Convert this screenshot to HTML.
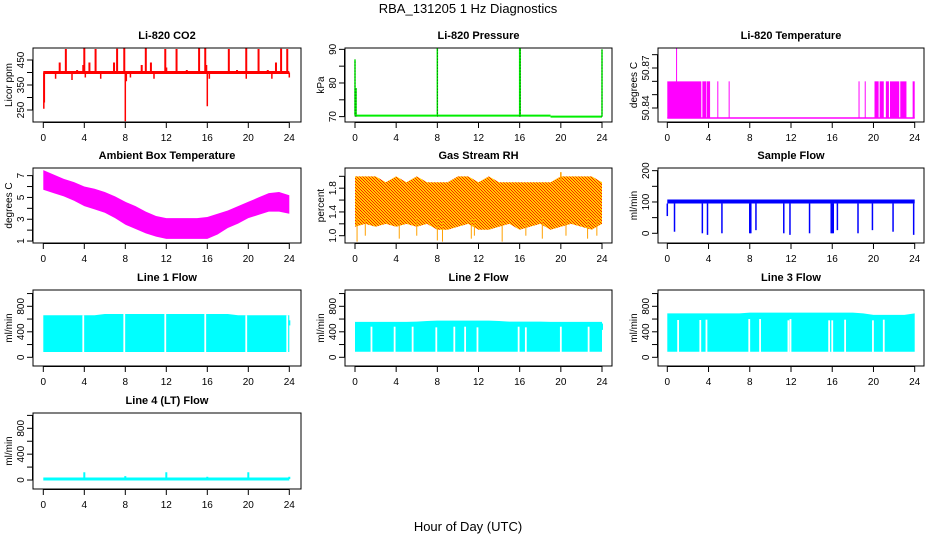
<!DOCTYPE html>
<html><head><meta charset="utf-8"><style>
html,body{margin:0;padding:0;background:#fff;}
svg{display:block;font-family:"Liberation Sans",Arial,sans-serif;}
</style></head><body>
<svg id="fig" width="936" height="540" viewBox="0 0 936 540">
<defs>
<pattern id="rhpat" width="3" height="3" patternUnits="userSpaceOnUse">
<rect width="3" height="3" fill="#ffcc00"/><rect width="1" height="1" fill="#ff2000"/><rect x="1" y="1" width="1" height="1" fill="#ff2000"/><rect x="2" y="2" width="1" height="1" fill="#ff2000"/>
</pattern>
</defs>
<text x="468" y="13" text-anchor="middle" font-size="13">RBA_131205  1 Hz Diagnostics</text>
<text x="468" y="531" text-anchor="middle" font-size="13">Hour of Day (UTC)</text>
</svg>
<script>
// ---------- data ----------
const xTicks = [0,4,8,12,16,20,24];
const co2Base = 400;
const co2SpikeHours = [2.2,4.0,5.1,7.2,7.9,10.0,11.9,13.0,15.2,15.8,18.1,19.8,21.0,23.2,23.8];
const co2SpikeVals = [494,496,494,495,496,496,494,494,497,496,494,496,494,495,494];
const co2SmallHours = [1.6,3.3,3.9,4.5,6.9,9.6,10.5,12.0,14.0,15.9,18.9,21.9,22.7];
const co2SmallVals = [440,410,430,440,440,430,440,420,410,430,410,410,440];
const co2DipHours = [0.05,0.1,1.2,2.8,4.1,5.6,8.0,8.1,8.5,10.8,16.0,16.2,19.8,22.3,24.0];
const co2DipVals = [255,280,375,370,380,375,205,365,380,375,265,375,375,375,380];

const presSegStart = [0,19];
const presSegEnd = [19,24];
const presSegVal = [70.3,70.0];
const presSpikeHours = [0.0,0.1,8.0,16.0,16.05,24.0];
const presSpikeVals = [87,78.5,90.5,90.3,90.3,90];

const ltBase = 50.8325;
const ltBandStart = [0,3.4,3.85,20.1,20.6,21.2,21.6,22.6,23.8];
const ltBandEnd = [3.3,3.8,4.15,20.5,21.0,21.5,22.5,23.2,24];
const ltBandTop = 50.86;
const ltLineHours = [4.9,6.0,18.6,19.2];
const ltSpikeHours = [0.9];
const ltSpikeVals = [50.885];

const hours = [0,1,2,3,4,5,6,7,8,9,10,11,12,13,14,15,16,17,18,19,20,21,22,23,24];
const ambMax = [7.5,7.1,6.7,6.4,6.0,5.8,5.5,5.1,4.6,4.2,3.7,3.3,3.1,3.1,3.1,3.1,3.2,3.5,3.8,4.2,4.6,5.0,5.4,5.5,5.2];
const ambMin = [5.7,5.4,5.1,4.7,4.2,3.9,3.6,3.1,2.5,2.1,1.7,1.4,1.2,1.2,1.2,1.2,1.2,1.6,2.2,2.6,3.1,3.4,3.7,3.7,3.5];

const rhTop = [2.0,2.0,2.0,1.9,2.0,1.9,2.0,1.9,1.9,1.9,2.0,2.0,1.9,2.0,1.9,1.9,1.9,1.9,1.9,1.9,2.0,2.0,2.0,2.0,1.9];
const rhLow = [1.15,1.2,1.15,1.2,1.15,1.2,1.15,1.2,1.1,1.1,1.15,1.2,1.1,1.1,1.15,1.2,1.1,1.15,1.2,1.1,1.15,1.2,1.15,1.1,1.2];
const rhDipHours = [0.2,1.0,4.3,6.0,8.0,8.5,11.3,11.6,14.3,16.6,18.2,20.5,22.6,23.5];
const rhDipVals = [0.9,1.0,0.95,1.0,0.92,0.9,0.95,1.0,0.9,1.0,0.95,1.0,0.95,1.0];

const sfLow = 95, sfHigh = 108;
const sfDipHours = [0.0,0.7,3.4,3.9,5.3,8.0,8.1,8.6,11.3,11.9,13.8,15.9,16.0,16.1,16.5,18.5,19.9,21.9,23.9];
const sfDipVals = [55,5,0,-5,0,0,0,10,0,-5,0,0,0,0,10,0,10,5,-5];

const l1Low = 83, l1Top = [660,660,660,660,660,660,680,680,680,680,680,680,680,680,680,680,680,680,680,660,660,660,660,660,660];
const l1GapHours = [3.9,7.9,11.9,15.8,19.8,23.8];
const l1GapTop = [660,680,680,680,660,660];
const l1EndLow = 500, l1EndHigh = 580;

const l2Low = 88, l2Top = [555,555,555,555,555,555,560,570,575,575,575,575,575,575,570,560,560,560,560,555,555,555,555,555,555];
const l2GapHours = [1.6,3.85,5.6,7.9,9.65,10.7,11.9,15.9,16.6,20.0,22.7];
const l2GapTop = [480,480,480,470,480,480,470,480,470,480,480];
const l2EndLow = 430, l2EndHigh = 530;

const l3Low = 88, l3Top = [690,690,690,690,690,690,690,690,700,700,700,700,700,700,700,700,700,700,700,690,665,665,665,665,690];
const l3GapHours = [1.05,3.2,3.8,7.95,9.0,11.75,11.95,15.7,16.0,17.25,19.95,21.0];
const l3GapTop = [585,585,590,600,600,580,600,580,580,590,580,590];

const l4Base = 15;
const l4SpikeHours = [4.0,8.0,12.0,16.0,20.0,24.0];
const l4SpikeVals = [120,60,120,50,120,50];

// ---------- layout ----------
const colBox = [[33,301],[345,612],[658,924]];
const colX = [[43.3,289.3],[355,602],[667.3,914.7]];
const rowBox = [[48,122],[168,243],[290,366],[413,489]];
const NS = "http://www.w3.org/2000/svg";
const svg = document.getElementById('fig');

function mk(tag, attrs, parent) {
  const e = document.createElementNS(NS, tag);
  for (const k in attrs) e.setAttribute(k, attrs[k]);
  (parent || svg).appendChild(e);
  return e;
}

function makePanel(name, col, row, title, ylab, ymin, ymax, yTicks, yLabels) {
  const g = mk('g', {});
  
  
  const [bx0, bx1] = colBox[col], [by0, by1] = rowBox[row];
  const [x0, x1] = colX[col];
  const P = {
    g,
    sx: h => x0 + (x1 - x0) * h / 24,
    sy: v => by1 - (v - ymin) / (ymax - ymin) * (by1 - by0),
    by0, by1, bx0, bx1
  };
  const plot = mk('g', {}, g);
  
  
  P.plot = plot;
  const t = mk('text', {x: (bx0 + bx1) / 2, y: by0 - 9, 'text-anchor': 'middle', 'font-size': 11, 'font-weight': 'bold'}, g);
  t.textContent = title;
  
  
  const box = mk('rect', {x: bx0, y: by0, width: bx1 - bx0, height: by1 - by0, fill: 'none', stroke: '#000', 'stroke-width': 1}, g);
  
  
  const xa = mk('g', {}, g);
  
  
  mk('line', {x1: P.sx(0), x2: P.sx(24), y1: by1 + 0.5, y2: by1 + 0.5, stroke: '#000'}, xa);
  xTicks.forEach(h => {
    mk('line', {x1: P.sx(h), x2: P.sx(h), y1: by1, y2: by1 + 6, stroke: '#000'}, xa);
    const l = mk('text', {x: P.sx(h), y: by1 + 19, 'text-anchor': 'middle', 'font-size': 10}, xa);
    l.textContent = h;
  });
  const ya = mk('g', {}, g);
  
  
  mk('line', {x1: bx0 - 0.5, x2: bx0 - 0.5, y1: P.sy(yTicks[0]), y2: P.sy(yTicks[yTicks.length - 1]), stroke: '#000'}, ya);
  yTicks.forEach(v => {
    mk('line', {x1: bx0 - 6, x2: bx0, y1: P.sy(v), y2: P.sy(v), stroke: '#000'}, ya);
  });
  yLabels.forEach(v => {
    const y = P.sy(v);
    const l = mk('text', {x: bx0 - 9, y: y, 'text-anchor': 'middle', 'font-size': 10, transform: `rotate(-90 ${bx0 - 9} ${y})`}, ya);
    l.textContent = String(v);
  });
  const yl = mk('text', {x: bx0 - 21, y: (by0 + by1) / 2, 'text-anchor': 'middle', 'font-size': 10, transform: `rotate(-90 ${bx0 - 21} ${(by0 + by1) / 2})`}, g);
  yl.textContent = ylab;
  
  
  return P;
}
function vline(P, h, v0, v1, color, w) {
  return mk('line', {x1: P.sx(h), x2: P.sx(h), y1: P.sy(v0), y2: P.sy(v1), stroke: color, 'stroke-width': w || 1}, P.plot);
}
function hline(P, h0, h1, v, color, w) {
  return mk('line', {x1: P.sx(h0), x2: P.sx(h1), y1: P.sy(v), y2: P.sy(v), stroke: color, 'stroke-width': w || 1}, P.plot);
}
function band(P, hs, lo, hi, fill) {
  let pts = hs.map((h, i) => P.sx(h) + ',' + P.sy(hi[i]));
  pts = pts.concat(hs.slice().reverse().map((h, i) => P.sx(h) + ',' + P.sy(lo[hs.length - 1 - i])));
  return mk('polygon', {points: pts.join(' '), fill: fill}, P.plot);
}
function fill(arr, v) { return arr.map(() => v); }

// CO2
let P = makePanel('co2', 0, 0, 'Li-820 CO2', 'Licor ppm', 202, 498, [250,300,350,400,450], [250,350,450]);
hline(P, 0, 24, co2Base, '#ff0000', 3);
co2SmallHours.forEach((h, i) => vline(P, h, co2Base, co2SmallVals[i], '#ff0000', 2));
co2SpikeHours.forEach((h, i) => vline(P, h, co2Base, co2SpikeVals[i], '#ff0000', 2));
co2DipHours.forEach((h, i) => vline(P, h, co2Base, co2DipVals[i], '#ff0000', 1.5));

// Pressure
P = makePanel('pressure', 1, 0, 'Li-820 Pressure', 'kPa', 68.4, 90.4, [70,75,80,85,90], [70,80,90]);
presSegStart.forEach((s, i) => hline(P, s, presSegEnd[i], presSegVal[i], '#00ee00', 2));
presSpikeHours.forEach((h, i) => {
  vline(P, h, presSegVal[h < 19 ? 0 : 1], presSpikeVals[i], '#00ee00', 1.5);
  vline(P, h, 70, presSpikeVals[i], '#000', 0.6).setAttribute('stroke-dasharray', '1,2');
});

// Li-820 temperature
P = makePanel('li820-temp', 2, 0, 'Li-820 Temperature', 'degrees C', 50.8295, 50.885, [50.84,50.85,50.86,50.87,50.88], [50.84,50.87]);
hline(P, 0, 24, ltBase, '#ff00ff', 1.5);
ltBandStart.forEach((s, i) => band(P, [s, ltBandEnd[i]], [ltBase, ltBase], [ltBandTop, ltBandTop], '#ff00ff'));
ltLineHours.forEach(h => vline(P, h, ltBase, ltBandTop, '#ff00ff', 1));
ltSpikeHours.forEach((h, i) => vline(P, h, ltBase, ltSpikeVals[i], '#ff00ff', 1));

// Ambient
P = makePanel('ambient-temp', 0, 1, 'Ambient Box Temperature', 'degrees C', 0.82, 7.7, [1,2,3,4,5,6,7], [1,3,5,7]);
band(P, hours, ambMin, ambMax, '#ff00ff');

// RH
P = makePanel('gas-rh', 1, 1, 'Gas Stream RH', 'percent', 0.877, 2.14, [1.0,1.2,1.4,1.6,1.8,2.0], ['1.0','1.4','1.8']);
band(P, hours, rhLow, rhTop, 'url(#rhpat)');
rhDipHours.forEach((h, i) => vline(P, h, 1.3, rhDipVals[i], '#ffa000', 1));
vline(P, 20, 1.9, 2.07, '#ffa000', 1.5);

// Sample flow
P = makePanel('sample-flow', 2, 1, 'Sample Flow', 'ml/min', -31, 208.5, [0,50,100,150,200], [0,100,200]);
band(P, [0, 24], [sfLow, sfLow], [sfHigh, sfHigh], '#0000ff');
sfDipHours.forEach((h, i) => vline(P, h, sfLow, sfDipVals[i], '#0000ff', 1.5));

// Line flows
function linePanel(name, col, row, title, ymin, ymax, low, top, gapH, gapTop, endLo, endHi) {
  const Q = makePanel(name, col, row, title, 'ml/min', ymin, ymax, [0,200,400,600,800,1000], [0,400,800]);
  band(Q, hours, fill(hours, low), top, '#00ffff');
  gapH.forEach((h, i) => vline(Q, h, low - 10, gapTop[i], '#ffffff', 1.8));
  if (endLo !== undefined) vline(Q, 24, endLo, endHi, '#00ffff', 2);
  return Q;
}
linePanel('line1-flow', 0, 2, 'Line 1 Flow', -136.5, 1055.7, l1Low, l1Top, l1GapHours, l1GapTop, l1EndLow, l1EndHigh);
linePanel('line2-flow', 1, 2, 'Line 2 Flow', -136.5, 1055.7, l2Low, l2Top, l2GapHours, l2GapTop, l2EndLow, l2EndHigh);
linePanel('line3-flow', 2, 2, 'Line 3 Flow', -136.5, 1055.7, l3Low, l3Top, l3GapHours, l3GapTop);

// Line 4
P = makePanel('line4-flow', 0, 3, 'Line 4 (LT) Flow', 'ml/min', -139, 1037, [0,200,400,600,800,1000], [0,400,800]);
hline(P, 0, 24, l4Base, '#00ffff', 3);
l4SpikeHours.forEach((h, i) => vline(P, h, l4Base, l4SpikeVals[i], '#00ffff', 2));
</script>
</body></html>
